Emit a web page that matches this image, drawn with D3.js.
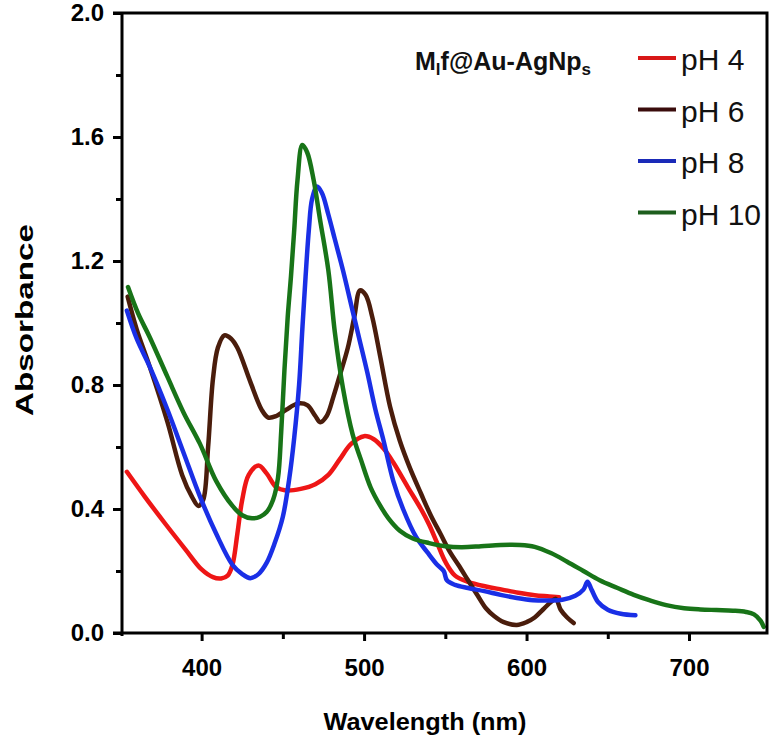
<!DOCTYPE html>
<html>
<head>
<meta charset="utf-8">
<script src="https://cdn.jsdelivr.net/npm/d3@7"></script>
<style>
  html, body { margin: 0; padding: 0; background: #fff; }
  svg { display: block; }
</style>
</head>
<body>
<svg id="chart" width="774" height="744"></svg>
<script>
// ---------- data ----------
const seriesNames = ["pH 4", "pH 6", "pH 8", "pH 10"];
const seriesColors = ["#ee1616", "#4a1d0c", "#1a2fe6", "#187418"];
const legendColors = ["#d81818", "#3a0c0c", "#1a2ab8", "#1d5e1d"];

const pH4 = [[354,0.52],[365,0.44],[378,0.35],[390,0.27],[400,0.205],[407,0.18],[412,0.176],[416,0.185],[419,0.22],[422,0.32],[425,0.43],[429,0.51],[435,0.54],[440,0.515],[446,0.47],[452,0.46],[461,0.465],[470,0.48],[478,0.51],[485,0.56],[492,0.61],[500,0.635],[506,0.625],[512,0.595],[518,0.55],[527,0.47],[535,0.40],[540,0.35],[545,0.29],[550,0.23],[556,0.185],[564,0.165],[575,0.15],[585,0.14],[595,0.13],[605,0.122],[614,0.118],[620,0.115]];

const pH6 = [[354.5,1.085],[360,0.98],[368,0.86],[379,0.68],[388,0.51],[394,0.44],[398,0.41],[401,0.43],[404,0.60],[407,0.82],[410,0.92],[414,0.96],[418,0.95],[422,0.92],[430,0.81],[437,0.72],[441,0.695],[446,0.70],[452,0.72],[459,0.74],[465,0.735],[470,0.70],[473,0.68],[477,0.70],[481,0.76],[485,0.83],[490,0.92],[494,1.02],[497.5,1.105],[501,1.09],[505,1.02],[510,0.89],[516,0.73],[522,0.62],[528,0.535],[535,0.45],[541,0.38],[547,0.32],[553,0.26],[558,0.22],[564,0.17],[570,0.12],[575,0.08],[580,0.055],[586,0.035],[594,0.026],[600,0.035],[605,0.05],[610,0.075],[615,0.10],[618,0.11],[621,0.075],[625,0.05],[629,0.032]];

const pH8 = [[354,1.04],[360,0.95],[368,0.86],[379,0.72],[389,0.58],[399,0.44],[409,0.32],[419,0.22],[425,0.19],[430,0.177],[435,0.19],[440,0.226],[445,0.29],[450,0.375],[454,0.50],[457,0.63],[460,0.80],[462,0.98],[464,1.15],[466,1.30],[468,1.40],[471,1.44],[474,1.42],[478,1.35],[482,1.27],[487,1.17],[492,1.06],[497,0.95],[502,0.84],[507,0.72],[512,0.62],[518,0.49],[524,0.40],[532,0.31],[539,0.26],[545,0.22],[549,0.20],[551,0.17],[556,0.155],[564,0.145],[574,0.135],[584,0.123],[594,0.113],[604,0.106],[614,0.105],[622,0.107],[630,0.12],[635,0.14],[637.5,0.165],[640,0.14],[644,0.10],[650,0.075],[658,0.062],[667,0.057]];

const pH10 = [[354.7,1.116],[361,1.03],[368,0.955],[379,0.826],[389,0.71],[399,0.61],[409,0.49],[419,0.41],[425,0.38],[431,0.37],[436,0.375],[440,0.39],[444,0.43],[447,0.50],[449,0.65],[451,0.85],[453,1.02],[455,1.15],[457,1.30],[459,1.46],[462,1.574],[465,1.55],[469,1.46],[473,1.33],[478,1.17],[482,0.97],[487,0.79],[493,0.64],[498,0.56],[504,0.47],[510,0.41],[515,0.37],[522,0.33],[530,0.305],[540,0.29],[550,0.28],[560,0.277],[572,0.28],[584,0.284],[596,0.284],[605,0.278],[615,0.258],[625,0.23],[635,0.20],[645,0.17],[656,0.145],[666,0.123],[676,0.105],[686,0.09],[697,0.08],[707,0.076],[717,0.074],[727,0.072],[735,0.068],[740,0.06],[744,0.04],[746,0.02]];

const seriesData = [pH4, pH6, pH8, pH10];
const xMajorTicks = [400, 500, 600, 700];
const xMinorTicks = [450, 550, 650];
const yMajorTicks = [0.0, 0.4, 0.8, 1.2, 1.6, 2.0];
const yMinorTicks = [0.2, 0.6, 1.0, 1.4, 1.8];
const xTitle = "Wavelength (nm)";
const yTitle = "Absorbance";

// ---------- layout ----------
const svg = d3.select("#chart");
const x = d3.scaleLinear().domain([351, 748]).range([122, 767]);
const y = d3.scaleLinear().domain([0, 2]).range([633, 13]);
const font = "'Liberation Sans', Arial, sans-serif";
const narrow = "'Liberation Sans Narrow', 'Arial Narrow', 'Liberation Sans', Arial, sans-serif";

// curves
const line = d3.line().x(d => x(d[0])).y(d => y(d[1])).curve(d3.curveCatmullRom.alpha(0.5));
svg.append("g").selectAll("path").data(seriesData).join("path")
  .attr("d", line)
  .attr("fill", "none")
  .attr("stroke", (d, i) => seriesColors[i])
  .attr("stroke-width", 4.5)
  .attr("stroke-linejoin", "round")
  .attr("stroke-linecap", "round");

// axes
function styleAxis(g) {
  g.select(".domain").remove();
  g.selectAll(".tick line").attr("stroke", "#000").attr("stroke-width", 3);
  g.selectAll(".tick text").attr("fill", "#000").attr("font-family", font)
    .attr("font-weight", "bold").attr("font-size", 24);
}
const yAxisG = svg.append("g").attr("transform", "translate(122,0)")
  .call(d3.axisLeft(y).tickValues(yMajorTicks).tickSize(9).tickPadding(9).tickFormat(d3.format(".1f")));
styleAxis(yAxisG);
svg.append("g").attr("transform", "translate(122,0)")
  .call(d3.axisLeft(y).tickValues(yMinorTicks).tickSize(6).tickFormat(""))
  .call(styleAxis);

const xAxisG = svg.append("g").attr("transform", "translate(0,633)")
  .call(d3.axisBottom(x).tickValues(xMajorTicks).tickSize(8).tickPadding(18).tickFormat(d3.format("d")));
styleAxis(xAxisG);
svg.append("g").attr("transform", "translate(0,633)")
  .call(d3.axisBottom(x).tickValues(xMinorTicks).tickSize(6).tickFormat(""))
  .call(styleAxis);

// frame
const [x0, x1] = x.range();
const [yb, yt] = y.range();
svg.append("path")
  .attr("d", `M${x0 - 9},${yt} H${x1} V${yb} M${x0},${yt} V${yb + 3} M${x0 - 9},${yb} H${x1 + 1.5}`)
  .attr("fill", "none").attr("stroke", "#000").attr("stroke-width", 3);

// axis titles
svg.append("text").text(xTitle)
  .attr("x", 425).attr("y", 730).attr("text-anchor", "middle")
  .attr("font-family", font).attr("font-weight", "bold").attr("font-size", 24)
  .attr("textLength", 203).attr("lengthAdjust", "spacingAndGlyphs");
svg.append("text").text(yTitle)
  .attr("transform", "translate(33,320) rotate(-90)").attr("text-anchor", "middle")
  .attr("font-family", font).attr("font-weight", "bold").attr("font-size", 24)
  .attr("textLength", 192).attr("lengthAdjust", "spacingAndGlyphs");

// sample label
const lab = svg.append("text").attr("x", 415).attr("y", 70)
  .attr("font-family", narrow).attr("font-weight", "bold").attr("font-size", 25).attr("fill", "#111");
lab.append("tspan").text("M");
lab.append("tspan").text("l").attr("font-size", 17).attr("dy", 5);
lab.append("tspan").text("f@Au-AgNp").attr("dy", -5);
lab.append("tspan").text("s").attr("font-size", 17).attr("dy", 5);

// legend
const leg = svg.append("g").selectAll("g").data(seriesNames).join("g")
  .attr("transform", (d, i) => `translate(0,${58 + i * 51.5})`);
leg.append("line").attr("x1", 638).attr("x2", 676).attr("y1", 0).attr("y2", 0)
  .attr("stroke", (d, i) => legendColors[i]).attr("stroke-width", 4);
leg.append("text").text(d => d).attr("x", 681).attr("y", 12)
  .attr("font-family", narrow).attr("font-size", 30).attr("fill", "#111");
</script>
</body>
</html>
